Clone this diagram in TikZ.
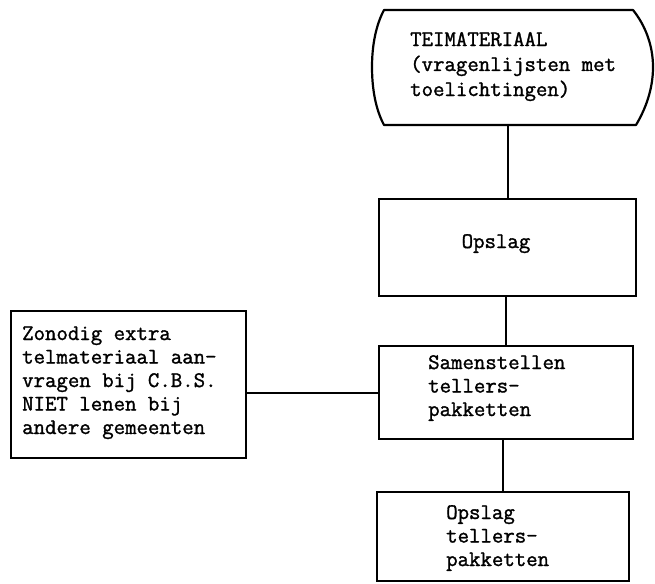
\documentclass[tikz,border=0pt]{standalone}
\usepackage{fontspec}
\setmonofont[FakeBold=1.4]{Latin Modern Mono}
\begin{document}
\begin{tikzpicture}[x=1pt,y=-1pt,
  ln/.style={line width=2.2pt},
  box/.style={ln,draw,inner sep=0pt,anchor=north west},
  txt/.style={inner sep=0pt,align=left,font=\ttfamily\fontsize{22.2}{23.5}\selectfont},
  conn/.style={ln,line cap=butt}]
\useasboundingbox (0,0) rectangle (655,583);
% terminal
\node[inner sep=0pt,minimum width=281pt,minimum height=115pt] (tm) at (512.5,67.5) {};
\draw[ln,line join=round] (384,10) -- (633,10)
  .. controls (645,25) and (653,45) .. (653,67)
  .. controls (653,90) and (645,110) .. (636,125)
  -- (384,125)
  .. controls (376,110) and (372,90) .. (372,67)
  .. controls (372,45) and (376,25) .. cycle;
\node[txt,anchor=base west,font=\ttfamily\fontsize{22.2}{25}\selectfont] (tmt) at (410,96)
  {TEIMATERIAAL\\(vragenlijsten met\\toelichtingen)};
% boxes
\node[box,minimum width=257pt,minimum height=97pt] (opslag) at (378,198) {};
\node[txt,anchor=base] (opslagt) at (496,248) {Opslag};
\node[box,minimum width=254pt,minimum height=93pt] (samen) at (378,345) {};
\node[txt,anchor=base west] (sament) at (428,416) {Samenstellen\\tellers-\\pakketten};
\node[box,minimum width=252pt,minimum height=89pt] (bottom) at (376,491) {};
\node[txt,anchor=base west] (bottomt) at (446,566) {Opslag\\tellers-\\pakketten};
\node[box,minimum width=235pt,minimum height=147pt] (left) at (10,310) {};
\node[txt,anchor=base west] (leftt) at (22,434)
  {Zonodig extra\\telmateriaal aan-\\vragen bij C.B.S.\\NIET lenen bij\\andere gemeenten};
% connectors
\draw[conn] (opslag.north) -- (opslag.north |- tm.south);
\draw[conn] (samen.north) -- (samen.north |- opslag.south);
\draw[conn] (bottom.north) -- (bottom.north |- samen.south);
\draw[conn] (samen.west) -- (samen.west -| left.east);
\end{tikzpicture}
\end{document}
